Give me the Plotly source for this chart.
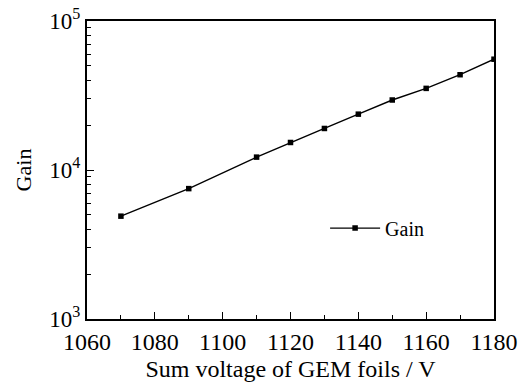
import plotly.graph_objects as go

voltage = [1070, 1090, 1110, 1120, 1130, 1140, 1150, 1160, 1170, 1180]
gain = [4900, 7500, 12200, 15300, 19000, 23700, 29500, 35300, 43600, 55400]

x_ticks = [1060, 1080, 1100, 1120, 1140, 1160, 1180]
y_ticks = [1e3, 1e4, 1e5]
y_ticktext = ["10<sup>3</sup>", "10<sup>4</sup>", "10<sup>5</sup>"]
y_minor = [m * 10 ** d for d in (3, 4) for m in range(2, 10)]
x_minor = [1070, 1090, 1110, 1130, 1150, 1170]

fig = go.Figure()
fig.add_trace(go.Scatter(
    x=voltage, y=gain, mode="lines+markers", name="Gain",
    line=dict(color="black", width=1.4),
    marker=dict(symbol="square", size=5.5, color="black"),
))

font = dict(family="Liberation Serif, Times New Roman, serif", color="black")
fig.update_layout(
    width=523, height=385,
    margin=dict(l=87, r=29, t=21, b=66, autoexpand=False),
    paper_bgcolor="white", plot_bgcolor="white",
    font=dict(**font, size=21),
    showlegend=True,
    legend=dict(x=0.585, y=0.305, xanchor="left", yanchor="middle", itemwidth=50,
                bgcolor="rgba(0,0,0,0)", font=dict(**font, size=20)),
    xaxis=dict(
        range=[1060, 1180], tickvals=x_ticks, ticks="inside", ticklen=7,
        tickcolor="black", tickwidth=1.3, showline=True, linecolor="black", linewidth=2,
        mirror=True, showgrid=False, zeroline=False, automargin=False,
        tickfont=dict(**font, size=24),
        minor=dict(tickvals=x_minor, ticks="inside", ticklen=4, tickcolor="black", tickwidth=1.3),
        title=dict(text="Sum voltage of GEM foils / V", font=dict(**font, size=24), standoff=6),
    ),
    yaxis=dict(
        type="log", range=[3, 5], tickvals=y_ticks, ticktext=y_ticktext,
        ticks="inside", ticklen=7, tickcolor="black", tickwidth=1.3, showline=True,
        linecolor="black", linewidth=2, mirror=True, showgrid=False, automargin=False,
        zeroline=False, tickfont=dict(**font, size=23),
        minor=dict(tickvals=y_minor, ticks="inside", ticklen=4, tickcolor="black", tickwidth=1.3),
        title=dict(text="Gain", font=dict(**font, size=22), standoff=12),
    ),
)
fig.write_html("out.html", config={"displayModeBar": False},
               post_script="document.body.style.margin='0';document.body.style.overflow='hidden';")
